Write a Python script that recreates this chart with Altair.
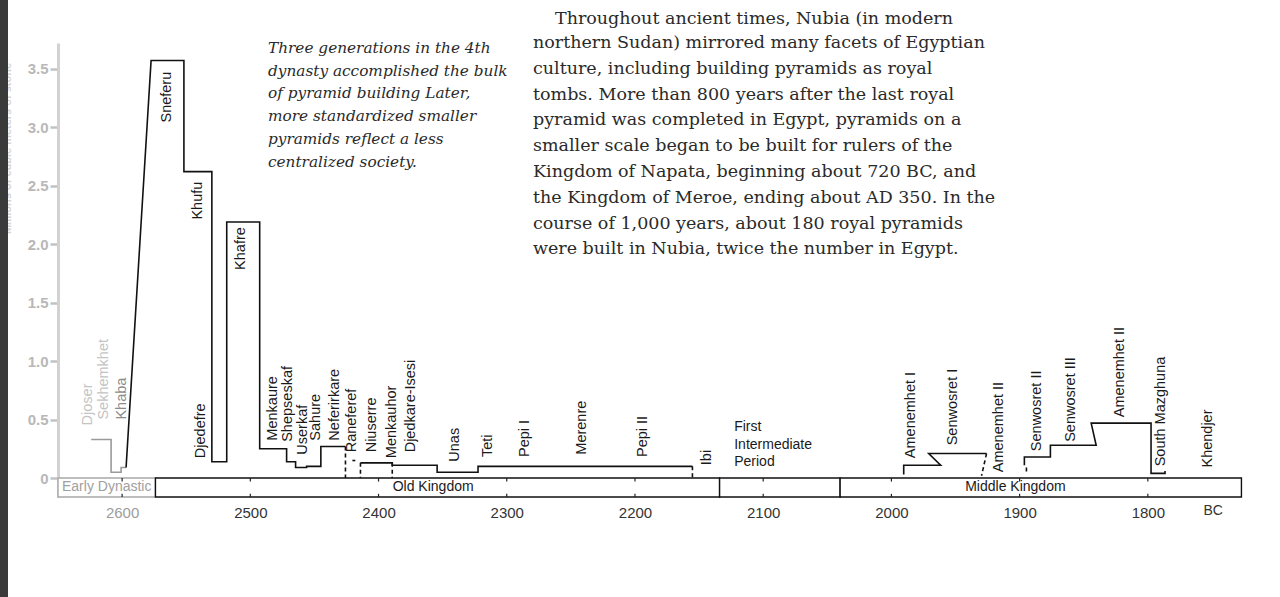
import altair as alt
import pandas as pd

# ---------------- data ----------------
# step line (year BC, volume in millions of cubic metres), by segment
line_seg = [0]*6 + [1]*19 + [2]*2 + [3]*8 + [4]*5 + [5]*10
line_year = [2624.1, 2608.6, 2608.6, 2600.8, 2600.8, 2596.9,
             2596.9, 2577.4, 2551.8, 2551.8, 2530.0, 2530.0, 2518.4, 2518.4, 2492.7, 2492.7,
             2471.7, 2471.7, 2464.7, 2464.7, 2456.1, 2456.1, 2445.0, 2445.0, 2425.8,
             2420.4, 2418.1,
             2414.1, 2389.3, 2389.3, 2354.3, 2354.3, 2322.4, 2322.4, 2155.2,
             1990.4, 1990.4, 1961.6, 1970.9, 1925.8,
             1896.3, 1896.3, 1876.0, 1876.0, 1840.3, 1844.2, 1797.5, 1797.5, 1786.6, 1786.6]
line_value = [0.33, 0.33, 0.05, 0.05, 0.09, 0.09,
              0.09, 3.57, 3.57, 2.62, 2.62, 0.14, 0.14, 2.19, 2.19, 0.25,
              0.25, 0.14, 0.14, 0.09, 0.09, 0.10, 0.10, 0.27, 0.27,
              0.15, 0.15,
              0.13, 0.13, 0.11, 0.11, 0.05, 0.05, 0.10, 0.10,
              0.03, 0.11, 0.11, 0.21, 0.21,
              0.11, 0.18, 0.18, 0.28, 0.28, 0.47, 0.47, 0.04, 0.04, 0.06]
seg_color = ["#9a9a9a", "#111111", "#111111", "#111111", "#111111", "#111111"]

# dashed segments (unfinished / uncertain pyramids)
dash_seg = [0, 0, 1, 1, 2, 2, 3, 3, 4, 4, 5, 5]
dash_year = [2425.8, 2425.8, 2414.1, 2414.1, 2389.3, 2389.3, 2155.2, 2155.2,
             1925.8, 1929.7, 1894.7, 1894.7]
dash_value = [0.27, 0.0, 0.13, 0.0, 0.13, 0.0, 0.10, 0.0, 0.21, 0.02, 0.09, 0.03]

# king labels (bottom of rotated text)
king_names = ["Djoser", "Sekhemkhet", "Khaba", "Sneferu", "Khufu", "Djedefre", "Khafre",
              "Menkaure", "Shepseskaf", "Userkaf", "Sahure", "Neferirkare", "Raneferef",
              "Niuserre", "Menkauhor", "Djedkare-Isesi", "Unas", "Teti", "Pepi I", "Merenre",
              "Pepi II", "Ibi", "Amenemhet I", "Senwosret I", "Amenemhet II", "Senwosret II",
              "Senwosret III", "Amenemhet II", "South Mazghuna", "Khendjer"]
king_year = [2626.4, 2614.0, 2600.0, 2565.0, 2540.9, 2538.6, 2507.5,
             2482.6, 2470.9, 2459.3, 2448.4, 2433.6, 2420.4,
             2404.8, 2389.3, 2374.5, 2340.3, 2314.6, 2285.8, 2241.5,
             2194.1, 2143.6, 1984.9, 1952.3, 1915.7, 1886.5,
             1859.7, 1821.6, 1789.7, 1753.2]
king_value = [0.45, 0.50, 0.50, 3.04, 2.21, 0.17, 1.78,
              0.32, 0.31, 0.20, 0.32, 0.32, 0.22,
              0.22, 0.17, 0.22, 0.14, 0.18, 0.18, 0.20,
              0.18, 0.11, 0.17, 0.28, 0.05, 0.23,
              0.31, 0.52, 0.10, 0.09]
king_tone = ["#c4c4c4", "#c4c4c4", "#8c8c8c"] + ["#1a1a1a"] * 27

# timeline band
period_names = ["Early Dynastic", "Old Kingdom", "", "Middle Kingdom"]
period_start = [2650, 2574, 2134, 2040]
period_end = [2574, 2134, 2040, 1727]
period_stroke = ["#a8a8a8", "#111111", "#111111", "#111111"]
period_label_year = [2612, 2357.4, 2087, 1903.3]
period_label_tone = ["#a0a0a0", "#1a1a1a", "#1a1a1a", "#1a1a1a"]

tick_years = [2600, 2500, 2400, 2300, 2200, 2100, 2000, 1900, 1800]
y_ticks = [0, 0.5, 1.0, 1.5, 2.0, 2.5, 3.0, 3.5]

note_lines = ["Three generations in the 4th",
              "dynasty accomplished the bulk",
              "of  pyramid building Later,",
              "more standardized smaller",
              "pyramids reflect a less",
              "centralized society."]
para_first = "Throughout ancient times, Nubia (in modern"
para_lines = ["northern Sudan) mirrored many facets of Egyptian",
              "culture,  including  building  pyramids  as  royal",
              "tombs. More than 800 years after the last royal",
              "pyramid was completed in Egypt, pyramids on a",
              "smaller scale began to be built for rulers of the",
              "Kingdom of Napata, beginning about 720 BC, and",
              "the Kingdom of Meroe, ending about AD 350. In the",
              "course of 1,000 years, about 180 royal pyramids",
              "were built in Nubia, twice the number in Egypt."]
fip_lines = ["First", "Intermediate", "Period"]

# ---------------- tables ----------------
line_df = pd.DataFrame({"year": line_year, "value": line_value, "seg": line_seg,
                        "idx": list(range(len(line_year)))})
line_df["col"] = [seg_color[s] for s in line_seg]
dash_df = pd.DataFrame({"year": dash_year, "value": dash_value, "seg": dash_seg,
                        "idx": list(range(len(dash_year)))})
king_df = pd.DataFrame({"name": king_names, "year": king_year, "value": king_value,
                        "tone": king_tone})
band_df = pd.DataFrame({"name": period_names, "start": period_start, "end": period_end,
                        "stroke": period_stroke, "ly": period_label_year,
                        "tone": period_label_tone, "lo": [-0.162]*4, "hi": [0.0]*4,
                        "mid": [-0.08]*4})
tick_df = pd.DataFrame({"year": tick_years})
tick_df["a0"], tick_df["a1"] = 0.0, -0.03
tick_df["b0"], tick_df["b1"] = -0.162, -0.135

xscale = alt.Scale(domain=[2650, 1725], nice=False, zero=False)
yscale = alt.Scale(domain=[-0.162, 3.72], nice=False, zero=False)
xaxis = alt.Axis(values=tick_years, title=None, domain=False, ticks=False, grid=False,
                 labelFontSize=15, labelFont="Liberation Sans", labelPadding=8, format="d",
                 labelColor={"expr": "datum.value == 2600 ? '#9c9c9c' : '#333333'"})
yaxis = alt.Axis(values=y_ticks, grid=False, title="Millions of cubic meters of stone",
                 labelExpr="datum.value == 0 ? '0' : format(datum.value, '.1f')",
                 labelColor="#b8b8b8", labelFontSize=15, labelFontWeight="bold",
                 labelFont="Liberation Sans", labelPadding=2,
                 tickSize=8, tickColor="#c2c2c2", tickWidth=2.5,
                 domainColor="#d2d2d2", domainWidth=3,
                 titleColor="#d4d4d4", titleFontSize=11, titleFont="Liberation Sans",
                 titleX=-46, titleY=105, titleAngle=270, titleAlign="center")


def X(f):
    return alt.X(f"{f}:Q", scale=xscale, axis=xaxis)


def Y(f):
    return alt.Y(f"{f}:Q", scale=yscale, axis=yaxis)


band = alt.Chart(band_df).mark_rect(fill="white", strokeWidth=1.4).encode(
    x=X("start"), x2="end", y=Y("lo"), y2="hi",
    stroke=alt.Stroke("stroke:N", scale=None))

band_text = alt.Chart(band_df).mark_text(font="Liberation Sans", fontSize=14,
                                         align="center", baseline="middle").encode(
    x=X("ly"), y=Y("mid"), text="name:N", color=alt.Color("tone:N", scale=None))

ticks_top = alt.Chart(tick_df).mark_rule(color="#222", strokeWidth=1.2).encode(
    x=X("year"), y=Y("a0"), y2="a1")
ticks_bot = alt.Chart(tick_df).mark_rule(color="#222", strokeWidth=1.2).encode(
    x=X("year"), y=Y("b0"), y2="b1")

steps = alt.Chart(line_df).mark_line(strokeWidth=1.6, strokeJoin="miter").encode(
    x=X("year"), y=Y("value"), detail="seg:N", order="idx:Q",
    color=alt.Color("col:N", scale=None))

dashes = alt.Chart(dash_df).mark_line(strokeWidth=1.6, strokeDash=[4, 3], color="#111").encode(
    x=X("year"), y=Y("value"), detail="seg:N", order="idx:Q")

kings = alt.Chart(king_df).mark_text(angle=270, align="left", baseline="middle",
                                     font="Liberation Sans", fontSize=14.5).encode(
    x=X("year"), y=Y("value"), text="name:N", color=alt.Color("tone:N", scale=None))

fip = alt.Chart(pd.DataFrame({"year": [2122.6], "value": [0.436]})).mark_text(
    align="left", baseline="middle", font="Liberation Sans", fontSize=14,
    lineHeight=17.5, color="#1a1a1a").encode(
    x=X("year"), y=Y("value"), text=alt.value(fip_lines))

bc = alt.Chart(pd.DataFrame({"year": [1749.0], "value": [-0.283], "t": ["BC"]})).mark_text(
    align="center", baseline="middle", font="Liberation Sans", fontSize=14,
    color="#333").encode(x=X("year"), y=Y("value"), text="t:N")

note = alt.Chart(pd.DataFrame({"k": [0]})).mark_text(
    align="left", baseline="middle", font="DejaVu Serif", fontStyle="italic",
    fontSize=15.3, lineHeight=22.7, color="#2a2a2a").encode(
    x=alt.value(210), y=alt.value(5), text=alt.value(note_lines))

para1 = alt.Chart(pd.DataFrame({"k": [0]})).mark_text(
    align="left", baseline="middle", font="DejaVu Serif",
    fontSize=17.5, color="#2a2a2a").encode(
    x=alt.value(497), y=alt.value(-24), text=alt.value(para_first))

para2 = alt.Chart(pd.DataFrame({"k": [0]})).mark_text(
    align="left", baseline="middle", font="DejaVu Serif",
    fontSize=17.5, lineHeight=25.8, color="#2a2a2a").encode(
    x=alt.value(475), y=alt.value(0), text=alt.value(para_lines))

strip = alt.Chart(pd.DataFrame({"k": [0]})).mark_rect(color="#3a3a3a").encode(
    x=alt.value(-58), x2=alt.value(-50), y=alt.value(-43), y2=alt.value(554))

chart = alt.layer(band, ticks_top, ticks_bot, band_text, steps, dashes, kings, fip, bc,
                  note, para1, para2, strip).properties(
    width=1186, height=454, autosize="none",
    padding={"left": 58, "top": 43, "right": 36, "bottom": 100},
    background="white",
).configure_view(stroke=None)

chart.save("out.html", embed_options={"renderer": "svg", "actions": False})
